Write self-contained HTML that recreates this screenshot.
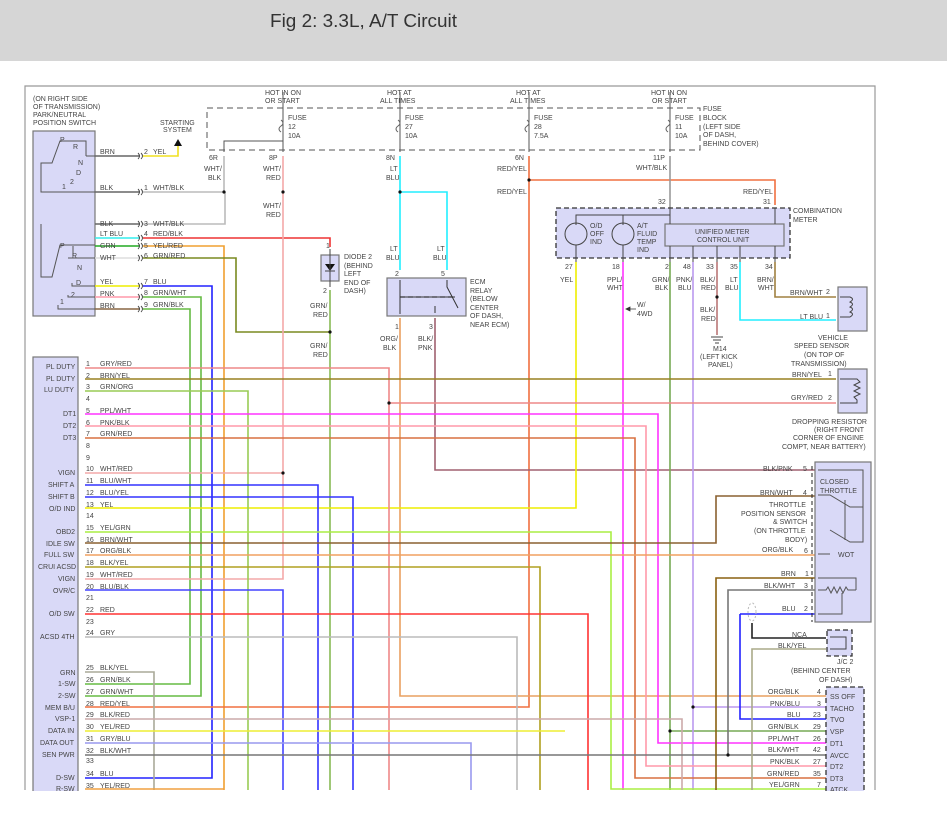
<!DOCTYPE html>
<html><head><meta charset="utf-8"><style>
html,body{margin:0;padding:0;background:#fff;}
body{width:947px;height:818px;overflow:hidden;position:relative;}
.hdr{position:absolute;left:0;top:0;width:947px;height:61px;background:#d6d6d6;}
svg{position:absolute;left:0;top:0;}
text{font-family:"Liberation Sans",Arial,sans-serif;font-size:7px;fill:#444;}
.w{fill:none;stroke-width:1.6;}
.b{fill:#d9d9f7;stroke:#777;stroke-width:1.2;}
.d{fill:#d9d9f7;stroke:#333;stroke-width:1.3;stroke-dasharray:5,3;}
.k{fill:none;stroke:#555;stroke-width:1;}
</style></head><body>
<div class="hdr"></div>
<svg width="947" height="818" viewBox="0 0 947 818">
<text x="270" y="27" style="font-size:18px;fill:#333" textLength="187" lengthAdjust="spacingAndGlyphs">Fig 2: 3.3L, A/T Circuit</text>
<!-- frame -->
<path d="M25,790 V86 H875 V790" fill="none" stroke="#999" stroke-width="1.2"/>

<!-- fuse block -->
<rect x="207" y="108" width="493" height="42" fill="none" stroke="#555" stroke-width="1" stroke-dasharray="6,4"/>
<g class="k">
<path d="M283,92 V152 M283,141 H224 V152 M400,92 V152 M529,92 V152 M670,92 V152"/>
</g>
<g fill="#fff" stroke="#666" stroke-width="1"><path d="M281,120 q4,3 0,6 q-4,3 0,6" /><path d="M398,120 q4,3 0,6 q-4,3 0,6"/><path d="M527,120 q4,3 0,6 q-4,3 0,6"/><path d="M668,120 q4,3 0,6 q-4,3 0,6"/></g>
<text x="265" y="95">HOT IN ON</text><text x="265" y="103">OR START</text>
<text x="387" y="95">HOT AT</text><text x="380" y="103">ALL TIMES</text>
<text x="516" y="95">HOT AT</text><text x="510" y="103">ALL TIMES</text>
<text x="651" y="95">HOT IN ON</text><text x="652" y="103">OR START</text>
<text x="288" y="120">FUSE</text><text x="288" y="129">12</text><text x="288" y="138">10A</text>
<text x="405" y="120">FUSE</text><text x="405" y="129">27</text><text x="405" y="138">10A</text>
<text x="534" y="120">FUSE</text><text x="534" y="129">28</text><text x="534" y="138">7.5A</text>
<text x="675" y="120">FUSE</text><text x="675" y="129">11</text><text x="675" y="138">10A</text>
<text x="703" y="111">FUSE</text><text x="703" y="120">BLOCK</text><text x="703" y="129">(LEFT SIDE</text><text x="703" y="137">OF DASH,</text><text x="703" y="146">BEHIND COVER)</text>
<text x="209" y="160">6R</text><text x="269" y="160">8P</text><text x="386" y="160">8N</text><text x="515" y="160">6N</text><text x="653" y="160">11P</text>

<!-- PNP switch -->
<rect class="b" x="33" y="131" width="62" height="185"/>
<text x="33" y="101">(ON RIGHT SIDE</text><text x="33" y="109">OF TRANSMISSION)</text><text x="33" y="117">PARK/NEUTRAL</text><text x="33" y="125">POSITION SWITCH</text>
<g class="k"><path d="M86,156 V141 H60 L52,163 H41 V192 H95 M86,156 H95 M41,224 V277 H52 L60,245 H95 M68,258 H95 M73,246 V256 M72,283 V286 H95 M68,295 V297 H95 M58,305 V309 H95"/></g>
<text x="60" y="142">P</text><text x="73" y="149">R</text><text x="78" y="165">N</text><text x="76" y="175">D</text><text x="70" y="184">2</text><text x="62" y="189">1</text>
<text x="60" y="248">P</text><text x="72" y="258">R</text><text x="77" y="270">N</text><text x="76" y="285">D</text><text x="71" y="297">2</text><text x="60" y="304">1</text>

<!-- switch wires -->
<path class="w" stroke="#666" d="M95,156 H140"/><path class="w" stroke="#f0e020" stroke-width="2" d="M143,156 H178 V145"/><path d="M174,146 L178,139 L182,146Z" fill="#111"/>
<text x="160" y="125">STARTING</text><text x="163" y="132">SYSTEM</text>
<text x="100" y="154">BRN</text><text x="144" y="154">2</text><text x="153" y="154">YEL</text>
<path class="w" stroke="#666" d="M95,192 H140"/><path class="w" stroke="#bbb" d="M143,192 H224 V156"/>
<text x="100" y="190">BLK</text><text x="144" y="190">1</text><text x="153" y="190">WHT/BLK</text>
<path class="w" stroke="#666" d="M95,224 H140"/><path class="w" stroke="#bbb" d="M143,224 H225 V192"/>
<text x="100" y="226">BLK</text><text x="144" y="226">3</text><text x="153" y="226">WHT/BLK</text>
<path class="w" stroke="#3ee" d="M95,238 H140"/><path class="w" stroke="#e33" d="M143,238 H330 V247"/>
<text x="100" y="236">LT BLU</text><text x="144" y="236">4</text><text x="153" y="236">RED/BLK</text>
<path class="w" stroke="#2a2" d="M95,246 H140"/><path class="w" stroke="#f0a030" d="M143,246 H224 V790"/>
<text x="100" y="248">GRN</text><text x="144" y="248">5</text><text x="153" y="248">YEL/RED</text>
<path class="w" stroke="#ddd" d="M95,258 H140"/><path class="w" stroke="#7a8a20" d="M143,258 H236 V332 H330"/>
<text x="100" y="260">WHT</text><text x="144" y="258">6</text><text x="153" y="258">GRN/RED</text>
<path class="w" stroke="#ee0" stroke-width="2" d="M95,286 H140"/><path class="w" stroke="#22f" stroke-width="2.4" d="M143,286 H212 V778 H85"/>
<text x="100" y="284">YEL</text><text x="144" y="284">7</text><text x="153" y="284">BLU</text>
<path class="w" stroke="#f9a" d="M95,297 H140"/><path class="w" stroke="#6b4" d="M143,297 H201 V696 H85"/>
<text x="100" y="296">PNK</text><text x="144" y="295">8</text><text x="153" y="295">GRN/WHT</text>
<path class="w" stroke="#864" d="M95,309 H140"/><path class="w" stroke="#6b4" d="M143,309 H190 V684 H85"/>
<text x="100" y="308">BRN</text><text x="144" y="307">9</text><text x="153" y="307">GRN/BLK</text>
<g fill="none" stroke="#444" stroke-width="0.9"><path d="M138,153 q3,3 0,6 M141,153 q3,3 0,6 M138,189 q3,3 0,6 M141,189 q3,3 0,6 M138,221 q3,3 0,6 M141,221 q3,3 0,6 M138,235 q3,3 0,6 M141,235 q3,3 0,6 M138,243 q3,3 0,6 M141,243 q3,3 0,6 M138,255 q3,3 0,6 M141,255 q3,3 0,6 M138,283 q3,3 0,6 M141,283 q3,3 0,6 M138,294 q3,3 0,6 M141,294 q3,3 0,6 M138,306 q3,3 0,6 M141,306 q3,3 0,6"/></g>

<!-- fuse outputs -->
<text x="204" y="171">WHT/</text><text x="208" y="180">BLK</text>
<path class="w" stroke="#f4a8a8" d="M283,156 V579 H85"/>
<text x="263" y="171">WHT/</text><text x="266" y="180">RED</text><text x="263" y="208">WHT/</text><text x="266" y="217">RED</text>
<path class="w" stroke="#f4a8a8" d="M85,473 H283"/>
<path class="w" stroke="#2ef" stroke-width="2" d="M400,156 V270 M400,192 H447 V270"/>
<text x="390" y="171">LT</text><text x="386" y="180">BLU</text><text x="390" y="251">LT</text><text x="386" y="260">BLU</text><text x="437" y="251">LT</text><text x="433" y="260">BLU</text>
<path class="w" stroke="#f07040" d="M529,156 V707 H85 M529,180 H775 V205"/>
<text x="497" y="171">RED/YEL</text><text x="497" y="194">RED/YEL</text><text x="743" y="194">RED/YEL</text>
<path class="w" stroke="#999" d="M670,156 V208"/><text x="636" y="170">WHT/BLK</text>

<!-- diode -->
<rect class="b" x="321" y="255" width="18" height="26"/>
<path d="M325,264 H335 L330,271Z" fill="#111"/><path d="M325,271 H335 M330,249 V287" stroke="#444" stroke-width="1"/>
<text x="326" y="248">1</text><text x="323" y="293">2</text>
<text x="344" y="259">DIODE 2</text><text x="344" y="268">(BEHIND</text><text x="344" y="276">LEFT</text><text x="344" y="285">END OF</text><text x="344" y="293">DASH)</text>
<path class="w" stroke="#8b5" d="M330,290 V790"/>
<text x="310" y="308">GRN/</text><text x="313" y="317">RED</text><text x="310" y="348">GRN/</text><text x="313" y="357">RED</text>

<!-- ECM relay -->
<rect class="b" x="387" y="278" width="79" height="38"/>
<path d="M400,280 V314 M447,280 V287 L458,308 M400,297 H455 M435,306 V313" stroke="#333" stroke-width="1" fill="none" stroke-dasharray="0"/>
<path d="M400,297 H455" stroke="#333" stroke-width="1.2" stroke-dasharray="5,3"/>
<text x="395" y="276">2</text><text x="441" y="276">5</text><text x="395" y="329">1</text><text x="429" y="329">3</text>
<text x="470" y="284">ECM</text><text x="470" y="293">RELAY</text><text x="470" y="301">(BELOW</text><text x="470" y="310">CENTER</text><text x="470" y="318">OF DASH,</text><text x="470" y="327">NEAR ECM)</text>
<text x="380" y="341">ORG/</text><text x="383" y="350">BLK</text><text x="418" y="341">BLK/</text><text x="418" y="350">PNK</text>
<path class="w" stroke="#e9a060" d="M400,318 V696 H826"/>
<path class="w" stroke="#a06070" d="M435,318 V470 H815"/>

<!-- combination meter -->
<rect class="d" x="556" y="208" width="234" height="50"/>
<rect class="b" x="665" y="224" width="119" height="22"/>
<text x="695" y="234">UNIFIED METER</text><text x="697" y="242">CONTROL UNIT</text>
<path d="M576,225 V215 H670 M623,215 V225 M670,208 V224 M775,208 V224 M670,246 V262 M693,246 V262 M717,246 V262 M740,246 V262 M775,246 V262 M576,245 V262 M623,245 V262" stroke="#444" stroke-width="1" fill="none"/>
<circle cx="576" cy="234" r="11" fill="none" stroke="#444"/><circle cx="623" cy="234" r="11" fill="none" stroke="#444"/>
<text x="590" y="228">O/D</text><text x="590" y="236">OFF</text><text x="590" y="244">IND</text>
<text x="637" y="228">A/T</text><text x="637" y="236">FLUID</text><text x="637" y="244">TEMP</text><text x="637" y="252">IND</text>
<text x="793" y="213">COMBINATION</text><text x="793" y="222">METER</text>
<text x="658" y="204">32</text><text x="763" y="204">31</text>
<text x="565" y="269">27</text><text x="612" y="269">18</text><text x="665" y="269">2</text><text x="683" y="269">48</text><text x="706" y="269">33</text><text x="730" y="269">35</text><text x="765" y="269">34</text>
<text x="560" y="282">YEL</text><text x="607" y="282">PPL/</text><text x="607" y="290">WHT</text><text x="652" y="282">GRN/</text><text x="655" y="290">BLK</text><text x="676" y="282">PNK/</text><text x="678" y="290">BLU</text><text x="700" y="282">BLK/</text><text x="701" y="290">RED</text><text x="730" y="282">LT</text><text x="725" y="290">BLU</text><text x="757" y="282">BRN/</text><text x="758" y="290">WHT</text>
<path class="w" stroke="#ee0" stroke-width="2" d="M576,262 V508 H85"/>
<path class="w" stroke="#f3f" d="M623,262 V790"/><path d="M626,309 H636 M626,309 l4,-2 v4z" stroke="#333" fill="#333" stroke-width="0.8"/><text x="637" y="307">W/</text><text x="637" y="316">4WD</text>
<path class="w" stroke="#7a5" d="M670,262 V790 M670,731 H826"/>
<path class="w" stroke="#b9e" d="M693,262 V790 M693,707 H826"/>
<path class="w" stroke="#b77" d="M717,262 V335"/><text x="700" y="312">BLK/</text><text x="701" y="321">RED</text>
<path d="M711,337 H723 M713,340 H721 M715,343 H719" stroke="#444"/><text x="713" y="351">M14</text><text x="700" y="359">(LEFT KICK</text><text x="708" y="367">PANEL)</text>
<path class="w" stroke="#2ef" stroke-width="2" d="M740,262 V320 H836"/>
<path class="w" stroke="#a08040" d="M775,262 V297 H836"/>
<text x="790" y="295">BRN/WHT</text><text x="826" y="294">2</text><text x="800" y="319">LT BLU</text><text x="826" y="318">1</text>
<rect class="b" x="838" y="287" width="29" height="44"/>
<path d="M840,297 H850 q5,2 0,5 q5,2 0,5 q5,2 0,5 q5,2 0,5 H840" stroke="#444" fill="none"/>
<text x="818" y="340">VEHICLE</text><text x="794" y="348">SPEED SENSOR</text><text x="804" y="357">(ON TOP OF</text><text x="791" y="366">TRANSMISSION)</text>

<!-- dropping resistor -->
<rect class="b" x="838" y="369" width="29" height="44"/>
<path d="M840,379 H857 l3,3 -6,3 6,3 -6,3 6,3 -6,3 3,3 V403 H840" stroke="#444" fill="none"/>
<text x="792" y="377">BRN/YEL</text><text x="828" y="376">1</text><text x="791" y="400">GRY/RED</text><text x="828" y="400">2</text>
<text x="792" y="424">DROPPING RESISTOR</text><text x="814" y="432">(RIGHT FRONT</text><text x="793" y="440">CORNER OF ENGINE</text><text x="782" y="449">COMPT, NEAR BATTERY)</text>

<!-- ECM -->
<rect class="b" x="33" y="357" width="45" height="440"/>
<g>
<text x="46" y="369">PL DUTY</text><text x="46" y="381">PL DUTY</text><text x="44" y="392">LU DUTY</text>
<text x="63" y="416">DT1</text><text x="63" y="428">DT2</text><text x="63" y="440">DT3</text>
<text x="58" y="475">VIGN</text><text x="48" y="487">SHIFT A</text><text x="48" y="499">SHIFT B</text><text x="49" y="511">O/D IND</text>
<text x="56" y="534">OBD2</text><text x="46" y="546">IDLE SW</text><text x="44" y="557">FULL SW</text><text x="38" y="569">CRUI ACSD</text><text x="58" y="581">VIGN</text><text x="53" y="593">OVR/C</text>
<text x="49" y="616">O/D SW</text><text x="40" y="639">ACSD 4TH</text>
<text x="60" y="675">GRN</text><text x="58" y="686">1-SW</text><text x="58" y="698">2-SW</text><text x="45" y="710">MEM B/U</text><text x="55" y="721">VSP-1</text><text x="48" y="733">DATA IN</text><text x="40" y="745">DATA OUT</text><text x="42" y="757">SEN PWR</text><text x="56" y="780">D-SW</text><text x="56" y="791">R-SW</text>
</g>
<g>
<text x="86" y="366">1</text><text x="86" y="378">2</text><text x="86" y="389">3</text><text x="86" y="401">4</text><text x="86" y="413">5</text><text x="86" y="425">6</text><text x="86" y="436">7</text><text x="86" y="448">8</text><text x="86" y="460">9</text><text x="86" y="471">10</text><text x="86" y="483">11</text><text x="86" y="495">12</text><text x="86" y="507">13</text><text x="86" y="518">14</text><text x="86" y="530">15</text><text x="86" y="542">16</text><text x="86" y="553">17</text><text x="86" y="565">18</text><text x="86" y="577">19</text><text x="86" y="589">20</text><text x="86" y="600">21</text><text x="86" y="612">22</text><text x="86" y="624">23</text><text x="86" y="635">24</text><text x="86" y="670">25</text><text x="86" y="682">26</text><text x="86" y="694">27</text><text x="86" y="706">28</text><text x="86" y="717">29</text><text x="86" y="729">30</text><text x="86" y="741">31</text><text x="86" y="753">32</text><text x="86" y="763">33</text><text x="86" y="776">34</text><text x="86" y="788">35</text>
<text x="100" y="366">GRY/RED</text><text x="100" y="378">BRN/YEL</text><text x="100" y="389">GRN/ORG</text><text x="100" y="413">PPL/WHT</text><text x="100" y="425">PNK/BLK</text><text x="100" y="436">GRN/RED</text><text x="100" y="471">WHT/RED</text><text x="100" y="483">BLU/WHT</text><text x="100" y="495">BLU/YEL</text><text x="100" y="507">YEL</text><text x="100" y="530">YEL/GRN</text><text x="100" y="542">BRN/WHT</text><text x="100" y="553">ORG/BLK</text><text x="100" y="565">BLK/YEL</text><text x="100" y="577">WHT/RED</text><text x="100" y="589">BLU/BLK</text><text x="100" y="612">RED</text><text x="100" y="635">GRY</text><text x="100" y="670">BLK/YEL</text><text x="100" y="682">GRN/BLK</text><text x="100" y="694">GRN/WHT</text><text x="100" y="706">RED/YEL</text><text x="100" y="717">BLK/RED</text><text x="100" y="729">YEL/RED</text><text x="100" y="741">GRY/BLU</text><text x="100" y="753">BLK/WHT</text><text x="100" y="776">BLU</text><text x="100" y="788">YEL/RED</text>
</g>
<path class="w" stroke="#e88" d="M85,368 H389 V790 M389,403 H836"/>
<path class="w" stroke="#998020" d="M85,379 H836"/>
<path class="w" stroke="#9c5" d="M85,391 H248 V790"/>
<path class="w" stroke="#f3f" d="M85,414 H658 V743 H826"/>
<path class="w" stroke="#f9a" d="M85,426 H646 V766 H826"/>
<path class="w" stroke="#d87040" d="M85,438 H635 V778 H826"/>
<path class="w" stroke="#33f" d="M85,485 H318 V790"/>
<path class="w" stroke="#33f" d="M85,497 H353 V790"/>
<path class="w" stroke="#ae4" d="M85,532 H611 V789 H826"/>
<path class="w" stroke="#8a6030" d="M85,543 H716 V496 H815"/>
<path class="w" stroke="#f0a060" d="M85,555 H815"/>
<path class="w" stroke="#b0a020" d="M85,567 H540 V790"/>
<path class="w" stroke="#44f" d="M85,590 H283 V790"/>
<path class="w" stroke="#f33" stroke-width="2.2" d="M85,614 H588 V790"/>
<path class="w" stroke="#bbb" d="M85,637 H517 V790"/>
<path class="w" stroke="#aa9" d="M85,672 H154 V790"/>
<path class="w" stroke="#caa" d="M85,719 H682 V790"/>
<path class="w" stroke="#ee3" d="M85,731 H565"/>
<path class="w" stroke="#99e" d="M85,743 H471 V790"/>
<path class="w" stroke="#777" d="M85,755 H826 M728,755 V590 H815"/>
<path class="w" stroke="#f0a040" d="M85,789 H224"/>
<path class="w" stroke="#8a6010" d="M716,790 V578 H815"/>
<path class="w" stroke="#22f" stroke-width="2" d="M740,614 H815 M740,614 V719 H826"/>
<path class="w" stroke="#222" d="M752,623 V638 H826"/>
<ellipse cx="752" cy="612" rx="4" ry="9" fill="none" stroke="#bbb" stroke-dasharray="2,2"/>
<path class="w" stroke="#aa8" d="M752,790 V649 H826"/>

<!-- dots -->
<g fill="#111"><circle cx="224" cy="192" r="1.6"/><circle cx="283" cy="192" r="1.6"/><circle cx="400" cy="192" r="1.6"/><circle cx="529" cy="180" r="1.6"/><circle cx="330" cy="332" r="1.6"/><circle cx="283" cy="473" r="1.6"/><circle cx="389" cy="403" r="1.6"/><circle cx="717" cy="297" r="1.6"/><circle cx="693" cy="707" r="1.6"/><circle cx="670" cy="731" r="1.6"/><circle cx="728" cy="755" r="1.6"/></g>

<!-- throttle sensor -->
<rect class="b" x="815" y="462" width="56" height="160"/>
<path d="M812,466 V622" stroke="#222" stroke-dasharray="4,3"/>
<path d="M818,470 H863 V507 H850 L830,495 H818 M818,554 H830 M830,530 L850,542 H863 V507 M845,500 V540 M818,578 H856 V590 M818,590 H826 l2,-3 3,6 3,-6 3,6 3,-6 3,6 3,-6 2,3 H856 M842,593 V603 M842,603 V614 H818" stroke="#555" fill="none" stroke-width="1"/>
<text x="820" y="484">CLOSED</text><text x="820" y="493">THROTTLE</text><text x="838" y="557">WOT</text>
<text x="763" y="471">BLK/PNK</text><text x="803" y="471">5</text>
<text x="760" y="495">BRN/WHT</text><text x="803" y="495">4</text>
<text x="769" y="507">THROTTLE</text><text x="741" y="516">POSITION SENSOR</text><text x="773" y="524">&amp; SWITCH</text><text x="754" y="533">(ON THROTTLE</text><text x="785" y="542">BODY)</text>
<text x="762" y="552">ORG/BLK</text><text x="804" y="553">6</text>
<text x="781" y="576">BRN</text><text x="805" y="576">1</text><text x="764" y="588">BLK/WHT</text><text x="804" y="588">3</text><text x="782" y="611">BLU</text><text x="804" y="611">2</text>

<!-- JC2 -->
<rect class="d" x="827" y="630" width="25" height="26"/>
<path d="M830,637 H846 V649 H830" stroke="#444" fill="none"/>
<text x="792" y="637">NCA</text><text x="778" y="648">BLK/YEL</text>
<text x="837" y="664">J/C 2</text><text x="791" y="673">(BEHIND CENTER</text><text x="819" y="682">OF DASH)</text>

<!-- bottom connector -->
<rect class="d" x="826" y="687" width="38" height="110"/>
<text x="830" y="699">SS OFF</text><text x="830" y="711">TACHO</text><text x="830" y="722">TVO</text><text x="830" y="734">VSP</text><text x="830" y="746">DT1</text><text x="830" y="758">AVCC</text><text x="830" y="769">DT2</text><text x="830" y="781">DT3</text><text x="830" y="792">ATCK</text>
<text x="768" y="694">ORG/BLK</text><text x="817" y="694">4</text>
<text x="770" y="706">PNK/BLU</text><text x="817" y="706">3</text>
<text x="787" y="717">BLU</text><text x="813" y="717">23</text>
<text x="768" y="729">GRN/BLK</text><text x="813" y="729">29</text>
<text x="768" y="741">PPL/WHT</text><text x="813" y="741">26</text>
<text x="768" y="752">BLK/WHT</text><text x="813" y="752">42</text>
<text x="770" y="764">PNK/BLK</text><text x="813" y="764">27</text>
<text x="767" y="776">GRN/RED</text><text x="813" y="776">35</text>
<text x="769" y="787">YEL/GRN</text><text x="817" y="787">7</text>
<rect x="0" y="791" width="947" height="27" fill="#fff"/>
</svg>
</body></html>
